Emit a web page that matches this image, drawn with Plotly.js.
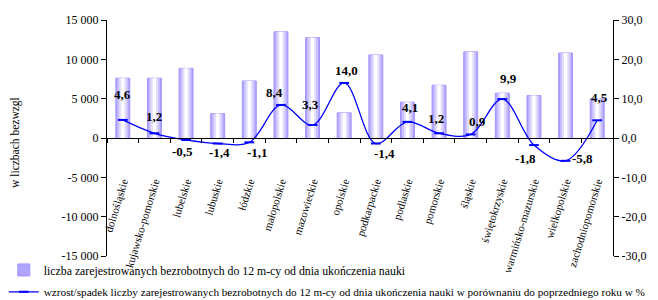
<!DOCTYPE html>
<html>
<head>
<meta charset="utf-8">
<script src="https://cdn.plot.ly/plotly-3.0.1.min.js"></script>
<style>html,body{margin:0;padding:0;background:#fff;}#chart{width:658px;height:300px;}</style>
</head>
<body>
<div id="chart"></div>
<script>
const categories = ['dolnośląskie','kujawsko-pomorskie','lubelskie','lubuskie','łódzkie','małopolskie','mazowieckie','opolskie','podkarpackie','podlaskie','pomorskie','śląskie','świętokrzyskie','warmińsko-mazurskie','wielkopolskie','zachodniopomorskie'];
const unemployed = [7600,7600,8850,3100,7250,13500,12750,3200,10550,4550,6700,10950,5700,5400,10800,5000];
const change = [4.6,1.2,-0.5,-1.4,-1.1,8.4,3.3,14.0,-1.4,4.1,1.2,0.9,9.9,-1.8,-5.8,4.5];
const leftTickVals = [-15000,-10000,-5000,0,5000,10000,15000];
const leftTickText = ['-15 000','-10 000','-5 000','0','5 000','10 000','15 000'];
const rightTickVals = [-30,-20,-10,0,10,20,30];
const rightTickText = ['-30,0','-20,0','-10,0','0,0','10,0','20,0','30,0'];
const barName = 'liczba zarejestrowanych bezrobotnych do 12 m-cy od dnia ukończenia nauki';
const lineName = 'wzrost/spadek liczby zarejestrowanych bezrobotnych do 12 m-cy od dnia ukończenia nauki w porównaniu do poprzedniego roku w %';

// label offsets in px [dx, dy up]
const labelShift = [[0,25],[0,17],[-4,-12],[2,-9],[8,-10],[-6,12],[-2,21],[2,12],[9,-10],[3,14],[-3,15],[7,13],[6,21],[-8,-13],[17,2],[2,23]];

const serif = 'Liberation Serif';

const layers = [
  {w:0.44, c:'#b0a4ff', lc:'#9f95ff', lw:1, legend:true},
  {w:0.34, c:'#cbc2ff', lc:'rgba(0,0,0,0)', lw:0, legend:false},
  {w:0.22, c:'#e5e0ff', lc:'rgba(0,0,0,0)', lw:0, legend:false},
  {w:0.10, c:'#ffffff', lc:'rgba(0,0,0,0)', lw:0, legend:false}
];
const traces = layers.map(l => ({
  type:'bar', x:categories, y:unemployed, name:barName,
  width:l.w, marker:{color:l.c, line:{color:l.lc, width:l.lw}},
  showlegend:l.legend, legend:'legend', hoverinfo:'skip', yaxis:'y', xaxis:'x'
}));
traces.push({
  type:'scatter', mode:'lines+markers', x:categories, y:change, name:lineName,
  yaxis:'y2', xaxis:'x', legend:'legend2',
  line:{color:'#0000ff', width:1.3, shape:'spline', smoothing:1},
  marker:{symbol:'line-ew', size:7, color:'#0000ff', line:{color:'#0000ff', width:2}}
});

const annotations = change.map((v,i) => ({
  x:categories[i], y:v, xref:'x', yref:'y2',
  text:'<b>' + v.toFixed(1).replace('.', ',') + '</b>', showarrow:false,
  xshift:labelShift[i][0], yshift:labelShift[i][1],
  font:{family:serif, size:13, color:'#000'},
  xanchor:'center', yanchor:'middle'
}));
annotations.push({
  xref:'paper', yref:'paper', x:-0.182, y:0.483, text:'w liczbach bezwzgl',
  textangle:-90, showarrow:false, font:{family:serif, size:11.5, color:'#000'},
  xanchor:'center', yanchor:'middle'
});

const layout = {
  width:658, height:300,
  margin:{l:107, r:45, t:20, b:44, autoexpand:false},
  paper_bgcolor:'#fff', plot_bgcolor:'#fff',
  separators:', ',
  barmode:'overlay',
  font:{family:serif, size:12, color:'#000'},
  xaxis:{
    type:'category', range:[-0.5,15.5], anchor:'free', position:0.5,
    showline:true, linecolor:'#000', linewidth:1,
    ticks:'outside', tickson:'boundaries', ticklen:4, tickcolor:'#000',
    tickangle:-73, ticklabelstandoff:32, tickfont:{family:serif, size:11},
    showgrid:false, zeroline:false, fixedrange:true, automargin:false
  },
  yaxis:{
    range:[-15000,15000], tickvals:leftTickVals, ticktext:leftTickText,
    showline:true, linecolor:'#000', ticks:'outside', ticklen:5, tickcolor:'#000',
    showgrid:false, zeroline:false, tickfont:{family:serif, size:12}, automargin:false
  },
  yaxis2:{
    range:[-30,30], tickvals:rightTickVals, ticktext:rightTickText,
    overlaying:'y', side:'right',
    showline:true, linecolor:'#000', ticks:'outside', ticklen:5, tickcolor:'#000',
    showgrid:false, zeroline:false, tickfont:{family:serif, size:12}, automargin:false
  },
  legend:{x:-0.204, y:-0.059, xanchor:'left', yanchor:'middle', orientation:'v',
    font:{family:serif, size:11.8}, bgcolor:'rgba(0,0,0,0)'},
  legend2:{x:-0.204, y:-0.152, xanchor:'left', yanchor:'middle', orientation:'v',
    font:{family:serif, size:11.2}, bgcolor:'rgba(0,0,0,0)'},
  annotations:annotations,
  showlegend:true
};

Plotly.newPlot('chart', traces, layout, {displayModeBar:false, staticPlot:true});
</script>
</body>
</html>
